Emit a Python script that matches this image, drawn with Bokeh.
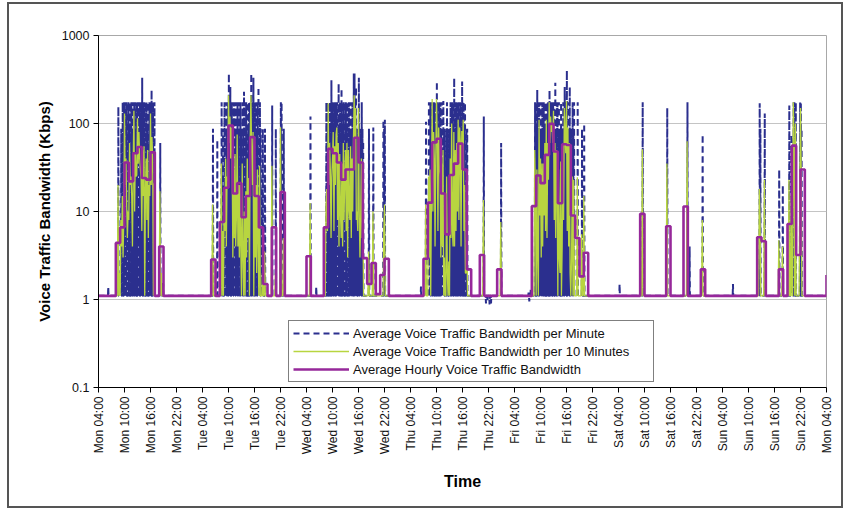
import math
from bokeh.plotting import figure
from bokeh.models import (Range1d, FixedTicker, Legend, LegendItem, BasicTickFormatter)
from bokeh.embed import file_html
from bokeh.resources import INLINE

# ---------------- data (hours counted from Mon 04:00) ----------------
TICK_HOURS = list(range(0, 169, 6))
TICK_LABELS = ["Mon 04:00", "Mon 10:00", "Mon 16:00", "Mon 22:00",
               "Tue 04:00", "Tue 10:00", "Tue 16:00", "Tue 22:00",
               "Wed 04:00", "Wed 10:00", "Wed 16:00", "Wed 22:00",
               "Thu 04:00", "Thu 10:00", "Thu 16:00", "Thu 22:00",
               "Fri 04:00", "Fri 10:00", "Fri 16:00", "Fri 22:00",
               "Sat 04:00", "Sat 10:00", "Sat 16:00", "Sat 22:00",
               "Sun 04:00", "Sun 10:00", "Sun 16:00", "Sun 22:00",
               "Mon 04:00"]
Y_TICKS = [0.1, 1, 10, 100, 1000]
Y_TICK_LABELS = ["0.1", "1", "10", "100", "1000"]

# hourly average (Kbps), 169 points: Mon 04:00 ... next Mon 04:00
HOURLY = [
    # Mon
    1.1, 1.1, 1.1, 1.1, 4.4, 6.6, 36, 22, 46, 54, 24, 23, 47, 1.1, 4.0, 1.1,
    1.1, 1.1, 1.1, 1.1, 1.1, 1.1, 1.1, 1.1,
    # Tue
    1.1, 1.1, 2.85, 1.1, 7.6, 18.6, 95, 16, 21, 8.6, 15, 70, 15, 6.6, 1.5, 1.1,
    6.6, 1.1, 16.6, 1.1, 1.1, 1.1, 1.1, 1.1,
    # Wed
    3.1, 1.1, 1.1, 1.1, 6.6, 51.5, 46, 36, 23, 30, 30, 69, 36, 2.95, 1.5, 2.6,
    1.15, 1.9, 2.9, 1.1, 1.1, 1.1, 1.1, 1.1,
    # Thu
    1.1, 1.1, 1.1, 2.9, 12.6, 61, 67, 16, 5.5, 26, 35, 59, 30, 2.2, 1.1, 1.1,
    3.2, 1.1, 1.1, 1.1, 2.2, 1.1, 1.1, 1.1,
    # Fri
    1.1, 1.1, 1.1, 1.1, 11.5, 25.7, 21, 44, 99, 48, 12.4, 58, 57, 9, 5, 1.83,
    3.4, 1.1, 1.1, 1.1, 1.1, 1.1, 1.1, 1.1,
    # Sat
    1.1, 1.1, 1.1, 1.1, 1.1, 9.4, 1.1, 1.1, 1.1, 1.1, 1.1, 6.8, 1.1, 1.1, 1.1,
    11.4, 1.1, 1.1, 1.1, 2.2, 1.1, 1.1, 1.1, 1.1,
    # Sun
    1.1, 1.1, 1.1, 1.1, 1.1, 1.1, 1.1, 1.1, 5.1, 4.6, 1.1, 1.1, 1.1, 2.2, 1.1,
    7.2, 56, 3.2, 30, 1.1, 1.1, 1.1, 1.1, 1.1,
    # Mon 04:00
    1.9,
]

QUIET = 1.1  # level of all series outside the listed hours

# 10-minute averages (6 per hour) for the hours with traffic
TEN_MIN = {
    4: [1.1, 1.1, 1.1, 20, 1.1, 2], 5: [1.1, 8, 4, 15, 3, 8.5],
    6: [130, 20, 40, 12, 5, 10], 7: [8, 60, 20, 25, 15, 4],
    8: [30, 140, 10, 45, 25, 26], 9: [115, 35, 80, 40, 30, 24],
    10: [6, 50, 15, 55, 1.1, 17], 11: [40, 8, 50, 5, 20, 15],
    12: [130, 20, 70, 40, 1.1, 21], 14: [1.1, 17, 1.1, 2, 1.1, 1.1],
    26: [1.1, 1.1, 12, 1.1, 1.1, 1.1], 28: [1.1, 1.1, 35, 1.1, 6, 1.1],
    29: [15, 6, 40, 4, 25, 22], 30: [210, 60, 120, 40, 90, 50],
    31: [3, 30, 5, 45, 4, 9], 32: [75, 4, 20, 3, 20, 4],
    33: [1.1, 35, 3, 1.1, 10, 1.1], 34: [17, 3, 40, 5, 24, 1.1],
    35: [60, 210, 50, 20, 80, 1.1], 36: [30, 3, 20, 2, 30, 5],
    37: [1.1, 33, 1.1, 1.1, 1.1, 2], 38: [1.1, 1.1, 3.5, 1.1, 1.1, 1.1],
    40: [33, 1.1, 1.1, 1.1, 1.1, 2], 42: [90, 1.1, 1.1, 1.1, 5, 1.1],
    48: [1.1, 1.1, 1.1, 1.1, 1.1, 12.5], 52: [1.1, 1.1, 1.1, 12, 18, 6],
    53: [170, 20, 60, 30, 5, 24], 54: [40, 80, 6, 55, 20, 75],
    55: [90, 8, 60, 4, 45, 10], 56: [5, 35, 4, 60, 8, 26],
    57: [50, 6, 60, 3, 50, 11], 58: [8, 55, 5, 40, 10, 62],
    59: [210, 30, 150, 8, 10, 6], 60: [150, 10, 3, 8, 40, 5],
    61: [12, 1.1, 1.1, 1.1, 1.1, 1.1], 62: [1.1, 1.1, 3.5, 1.1, 1.1, 1.1],
    63: [1.1, 1.1, 10, 1.1, 1.1, 1.1], 65: [1.1, 1.1, 1.1, 1.1, 1.1, 5.8],
    66: [12, 1.1, 1.1, 1.1, 1.1, 1.1],
    75: [1.1, 1.1, 1.1, 12, 1.1, 1.1], 76: [1.1, 25, 3, 30, 1.1, 15.5],
    77: [190, 10, 80, 40, 4, 42], 78: [190, 60, 6, 90, 30, 26],
    79: [3, 35, 4, 50, 1.1, 3], 80: [1.1, 1.1, 25, 2, 1.1, 2.7],
    81: [1.1, 40, 5, 100, 6, 4], 82: [80, 4, 50, 6, 60, 10],
    83: [110, 8, 90, 60, 4, 82], 84: [40, 110, 6, 20, 2, 2],
    85: [7.5, 1.1, 1.1, 1.1, 1.1, 1.1], 88: [1.1, 1.1, 1.1, 1.1, 1.1, 13.5],
    92: [1.1, 1.1, 1.1, 1.1, 1.1, 7.6],
    100: [1.1, 1.1, 1.1, 1.1, 50, 15], 101: [1.1, 30, 3, 1.1, 110, 9],
    102: [40, 3, 35, 4, 35, 9], 103: [60, 6, 110, 5, 60, 23],
    104: [174, 60, 120, 80, 100, 60], 105: [140, 8, 60, 5, 50, 25],
    106: [1.1, 30, 3, 2, 37, 1.1], 107: [4, 60, 8, 150, 80, 46],
    108: [180, 6, 90, 4, 60, 2], 109: [1.1, 3, 25, 1.1, 23, 1.1],
    110: [1.1, 1.1, 1.1, 24.5, 1.1, 1.1], 111: [1.1, 1.1, 1.1, 5.5, 1.1, 1.1],
    112: [15, 1.1, 1.1, 1.1, 1.1, 1.1],
    125: [1.1, 1.1, 1.1, 51, 1.1, 1.1], 131: [1.1, 35, 1.1, 1.1, 1.1, 1.1],
    135: [1.1, 1.1, 1.1, 1.1, 1.1, 63], 139: [1.1, 1.1, 8, 1.1, 1.1, 1.1],
    152: [1.1, 1.1, 1.1, 18, 9, 1.1], 153: [1.1, 1.1, 1.1, 1.1, 23, 1.1],
    157: [4.7, 1.1, 1.1, 1.1, 1.1, 4], 159: [1.1, 1.1, 23, 1.1, 1.1, 15.5],
    160: [1.1, 1.1, 174, 60, 1.1, 100], 161: [1.1, 1.1, 1.1, 1.1, 1.1, 13.5],
    162: [150, 25, 1.1, 1.1, 1.1, 1.1],
}

# per-minute peaks (one peak minute in each 10-minute slot) for the busy hours
MINUTE_PEAK = {
    2: [1.1, 1.4, 1.1, 1.1, 1.1, 1.1],
    4: [1.1, 1.1, 1.1, 155, 1.1, 1.1], 5: [1.1, 87, 1.1, 174, 65, 174],
    6: [174, 1.1, 174, 174, 1.1, 174], 7: [87, 174, 1.1, 174, 174, 87],
    8: [174, 174, 87, 174, 174, 174], 9: [174, 1.1, 174, 174, 174, 174],
    10: [330, 174, 174, 174, 1.1, 174], 11: [174, 87, 174, 1.1, 174, 174],
    12: [174, 240, 174, 174, 1.1, 174], 14: [1.1, 60, 1.1, 1.5, 1.6, 1.5],
    26: [1.1, 1.1, 87, 1.1, 1.1, 1.1], 27: [1.1, 1.1, 65, 1.1, 1.1, 1.1],
    28: [1.1, 1.1, 174, 1.1, 87, 1.1], 29: [174, 1.1, 174, 87, 174, 174],
    30: [370, 174, 260, 174, 174, 174], 31: [87, 174, 1.1, 174, 87, 174],
    32: [174, 87, 174, 1.1, 174, 87], 33: [1.1, 174, 87, 230, 174, 1.1],
    34: [174, 1.1, 174, 87, 174, 150], 35: [174, 370, 174, 87, 330, 87],
    36: [174, 1.1, 174, 87, 174, 260], 37: [1.1, 174, 87, 17, 1.1, 87],
    38: [1.1, 1.1, 87, 1.1, 1.1, 1.1], 40: [160, 1.1, 1.1, 1.1, 1.1, 87],
    42: [174, 174, 1.1, 1.1, 87, 1.1],
    48: [1.1, 1.1, 1.1, 1.1, 1.1, 120], 50: [1.1, 1.4, 1.1, 1.1, 1.1, 1.1],
    52: [1.1, 1.1, 1.1, 174, 174, 87], 53: [174, 87, 174, 174, 310, 174],
    54: [174, 174, 87, 174, 174, 174], 55: [174, 1.1, 285, 87, 174, 174],
    56: [250, 174, 87, 174, 1.1, 174], 57: [174, 87, 174, 1.1, 174, 174],
    58: [87, 174, 87, 174, 87, 370], 59: [370, 174, 260, 87, 1.1, 87],
    60: [330, 87, 1.1, 87, 174, 87], 61: [63, 1.1, 1.1, 1.1, 1.1, 1.1],
    62: [1.1, 1.1, 87, 1.1, 1.1, 1.1], 63: [1.1, 1.1, 90, 1.1, 1.1, 1.1],
    65: [1.1, 1.1, 1.1, 1.1, 110, 87], 66: [110, 1.1, 1.1, 1.1, 1.1, 1.1],
    74: [1.1, 1.1, 1.4, 1.1, 1.1, 1.1], 75: [1.1, 1.1, 1.1, 105, 1.1, 1.1],
    76: [1.1, 174, 1.1, 174, 87, 174], 77: [174, 87, 174, 174, 87, 174],
    78: [300, 174, 87, 174, 174, 174], 79: [87, 174, 1.1, 180, 87, 87],
    80: [1.1, 87, 174, 87, 1.1, 87], 81: [87, 174, 87, 174, 87, 174],
    82: [330, 87, 174, 174, 174, 87], 83: [174, 87, 174, 174, 87, 300],
    84: [174, 174, 87, 174, 1.1, 87], 85: [87, 1.1, 1.1, 1.1, 1.1, 1.1],
    88: [1.1, 1.1, 1.1, 1.1, 1.1, 120], 89: [1.1, 1.1, 0.9, 1.1, 0.95, 1.1],
    90: [1.1, 0.88, 1.1, 0.9, 1.1, 1.1], 92: [1.1, 1.1, 1.1, 1.1, 1.1, 60],
    99: [1.1, 1.2, 0.95, 1.1, 1.3, 1.1], 100: [1.1, 1.1, 1.1, 1.1, 174, 174],
    101: [87, 240, 87, 174, 174, 87], 102: [174, 87, 174, 87, 174, 87],
    103: [174, 87, 174, 87, 174, 174], 104: [240, 174, 174, 174, 174, 174],
    105: [174, 87, 290, 87, 174, 174], 106: [87, 174, 87, 87, 174, 87],
    107: [87, 174, 87, 260, 174, 174], 108: [400, 87, 174, 87, 260, 87],
    109: [87, 1.1, 174, 87, 174, 1.1], 110: [1.1, 1.1, 1.1, 174, 1.1, 1.1],
    111: [1.1, 1.1, 1.1, 87, 1.1, 1.1], 112: [100, 1.1, 1.1, 1.1, 1.1, 1.1],
    120: [1.1, 1.5, 1.1, 1.1, 1.1, 1.1], 125: [1.1, 1.1, 1.1, 174, 1.1, 1.1],
    131: [1.1, 150, 1.1, 1.1, 1.1, 1.1], 135: [1.1, 1.1, 1.1, 1.1, 1.1, 174],
    136: [1.1, 1.1, 4, 1.1, 1.1, 1.1], 139: [1.1, 1.1, 75, 1.1, 1.1, 1.1],
    146: [1.1, 1.1, 1.5, 1.1, 1.1, 1.1], 152: [1.1, 1.1, 1.1, 170, 87, 1.1],
    153: [1.1, 1.1, 1.1, 1.1, 130, 1.1], 157: [30, 1.1, 1.1, 1.1, 1.1, 20],
    159: [1.1, 1.1, 160, 1.1, 1.1, 75], 160: [1.1, 1.1, 174, 174, 1.1, 174],
    161: [1.1, 1.1, 1.1, 1.1, 1.1, 174], 162: [174, 87, 1.1, 1.1, 1.1, 1.1],
}

SERIES_NAMES = ["Average Voice Traffic Bandwidth per Minute",
                "Average Voice Traffic Bandwidth per 10 Minutes",
                "Average Hourly Voice Traffic Bandwidth"]

# ---------------- build point lists ----------------
ten_x, ten_y = [], []
min_x, min_y = [], []
for h in range(168):
    g = TEN_MIN.get(h, [QUIET] * 6)
    b = MINUTE_PEAK.get(h, [QUIET] * 6)
    for k in range(6):
        t = h + k / 6.0
        ten_x.append(t)
        ten_y.append(g[k])
        min_x += [t + 1 / 60.0, t + 5 / 60.0, t + 9 / 60.0]
        min_y += [QUIET, b[k], QUIET]
ten_x.append(168.0)
ten_y.append(QUIET)
hour_x = list(range(len(HOURLY)))

FONT = "Liberation Sans"

p = figure(width=847, height=510, x_range=Range1d(0, 168), y_range=Range1d(0.1, 1000),
           y_axis_type="log", output_backend="svg", toolbar_location=None,
           min_border_left=98, min_border_right=21, min_border_top=35, min_border_bottom=123,
           background_fill_color="white", border_fill_color="white", border_fill_alpha=0)
# chart-area frame (grey rectangle around the whole chart) painted behind the
# transparent canvas border
G = "linear-gradient(#555555, #555555)"
p.styles = {
    "background": (f"{G} 7px 2px / 836px 2px no-repeat, "
                   f"{G} 7px 506px / 836px 2px no-repeat, "
                   f"{G} 7px 2px / 2px 506px no-repeat, "
                   f"{G} 841px 2px / 2px 506px no-repeat, #ffffff"),
}

r_min = p.line(min_x, min_y, line_color="#2B2F8E", line_width=2, line_dash="6 4")
r_ten = p.line(ten_x, ten_y, line_color="#B8D540", line_width=1.3)
r_hr = p.step(hour_x, HOURLY, mode="after", line_color="#96289A", line_width=2.6)

# axes
p.xaxis.ticker = FixedTicker(ticks=TICK_HOURS)
p.xaxis.major_label_overrides = {h: lab for h, lab in zip(TICK_HOURS, TICK_LABELS)}
p.xaxis.major_label_orientation = math.pi / 2
p.yaxis.ticker = FixedTicker(ticks=Y_TICKS)
p.yaxis.formatter = BasicTickFormatter()
p.yaxis.major_label_overrides = {v: lab for v, lab in zip(Y_TICKS, Y_TICK_LABELS)}

for ax in (p.xaxis[0], p.yaxis[0]):
    ax.axis_line_color = "black"
    ax.axis_line_width = 1
    ax.major_tick_line_color = "black"
    ax.major_tick_in = 0
    ax.major_tick_out = 5
    ax.minor_tick_line_color = None
    ax.major_label_text_font = FONT
    ax.major_label_text_color = "#111111"
    ax.axis_label_text_font = FONT
    ax.axis_label_text_font_style = "bold"
    ax.axis_label_text_color = "black"

p.xaxis.major_label_text_font_size = "12px"
p.yaxis.major_label_text_font_size = "12.5px"
p.xaxis.major_label_standoff = 4
p.yaxis.major_label_standoff = 4
p.xaxis.axis_label = "Time"
p.yaxis.axis_label = "Voice Traffic Bandwidth (Kbps)"
p.xaxis.axis_label_text_font_size = "16px"
p.yaxis.axis_label_text_font_size = "15px"
p.xaxis.axis_label_standoff = 16
p.yaxis.axis_label_standoff = 6

p.xgrid.visible = False
p.ygrid.grid_line_color = "#C4C4C4"
p.ygrid.grid_line_width = 1.2
p.outline_line_color = "#A8A8A8"
p.outline_line_width = 1

legend = Legend(items=[LegendItem(label=SERIES_NAMES[0], renderers=[r_min]),
                       LegendItem(label=SERIES_NAMES[1], renderers=[r_ten]),
                       LegendItem(label=SERIES_NAMES[2], renderers=[r_hr])],
                location=(190, 5), orientation="vertical",
                border_line_color="black", border_line_width=1,
                background_fill_color="white", background_fill_alpha=1,
                padding=4, spacing=2, margin=0,
                glyph_width=56, glyph_height=16, label_height=16, label_standoff=4,
                label_width=296,
                label_text_font=FONT, label_text_font_size="13px",
                label_text_color="#111111")
p.add_layout(legend, "center")

open("out.html", "w").write(file_html(p, INLINE))
